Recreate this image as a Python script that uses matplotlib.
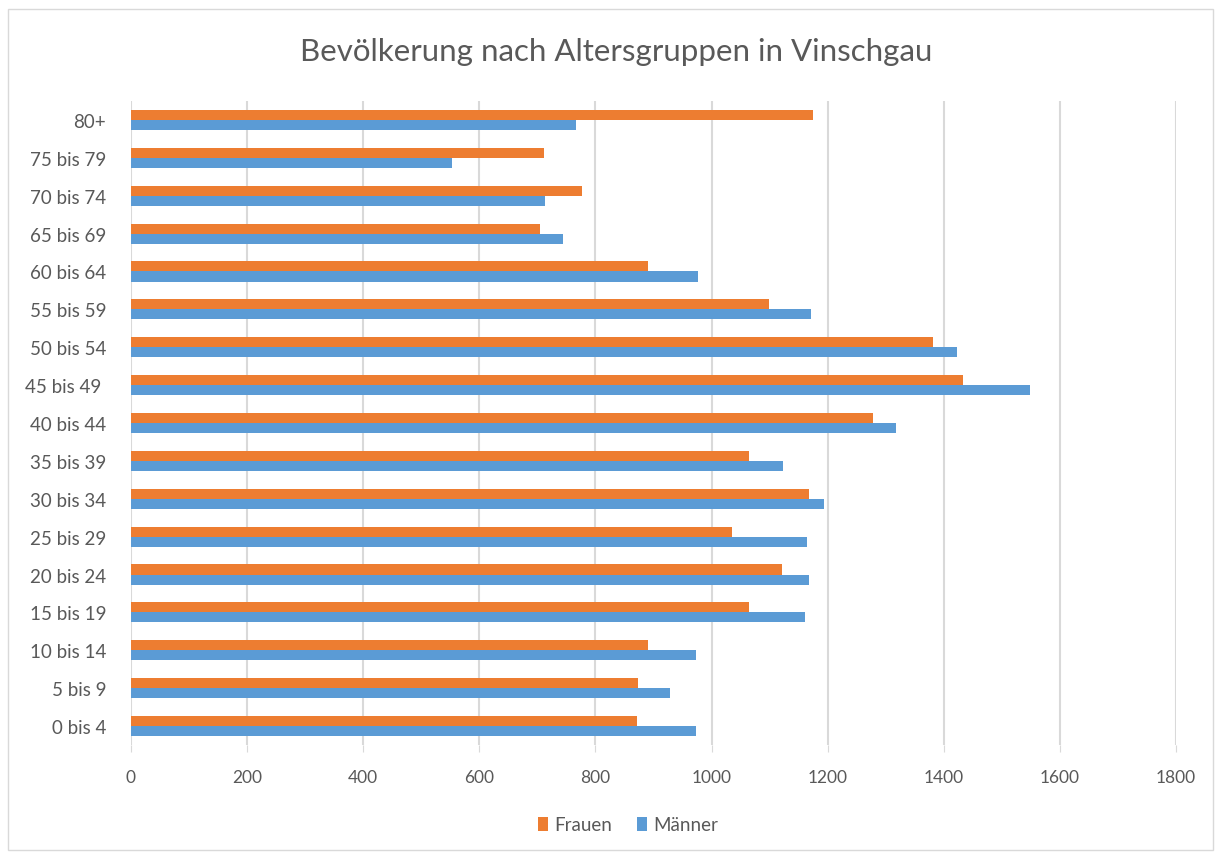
import numpy as np
import matplotlib.pyplot as plt
from matplotlib.patches import Rectangle

# Altersgruppen von unten nach oben
altersgruppen = ['0 bis 4', '5 bis 9', '10 bis 14', '15 bis 19', '20 bis 24', '25 bis 29',
                 '30 bis 34', '35 bis 39', '40 bis 44', '45 bis 49 ', '50 bis 54', '55 bis 59',
                 '60 bis 64', '65 bis 69', '70 bis 74', '75 bis 79', '80+']
frauen = [871, 873, 891, 1065, 1121, 1035, 1168, 1064, 1278, 1433, 1382, 1099,
          891, 704, 777, 711, 1175]
maenner = [973, 928, 973, 1161, 1168, 1164, 1194, 1123, 1317, 1549, 1423, 1171,
           977, 744, 713, 553, 766]
x_ticks = [0, 200, 400, 600, 800, 1000, 1200, 1400, 1600, 1800]

plt.rcParams['font.family'] = ['Lato', 'DejaVu Sans']
grau = '#595959'

fig = plt.figure(figsize=(12.21, 8.53), dpi=100)
ax = fig.add_axes([131 / 1221, 1 - 746 / 853, (1176 - 131) / 1221, (746 - 102) / 853])

y = np.arange(len(altersgruppen))
h = 0.265
ax.barh(y + h / 2, frauen, height=h, color='#ED7D31', label='Frauen', zorder=3)
ax.barh(y - h / 2, maenner, height=h, color='#5B9BD5', label='Männer', zorder=3)

ax.set_xlim(0, 1800)
ax.set_ylim(-0.5, len(altersgruppen) - 0.5)
ax.set_xticks(x_ticks)
ax.set_yticks(y)
ax.set_yticklabels(altersgruppen)
ax.xaxis.grid(True, color='#d9d9d9', linewidth=1.5, zorder=0)
ax.set_axisbelow(True)
for s in ax.spines.values():
    s.set_visible(False)
ax.tick_params(axis='x', length=5, color='#d9d9d9', labelcolor=grau, labelsize=12.5, pad=12)
ax.tick_params(axis='y', length=0, labelcolor=grau, labelsize=13.5, pad=18)

fig.text(616 / 1221, 1 - 52 / 853, 'Bevölkerung nach Altersgruppen in Vinschgau',
         ha='center', va='center', fontsize=22.5, color=grau)

leg = fig.legend(loc='center', bbox_to_anchor=(628 / 1221, 1 - 826 / 853), ncol=2,
                 frameon=False, fontsize=13.5, handlelength=0.55, handleheight=0.7,
                 columnspacing=1.3, handletextpad=0.35)
for t in leg.get_texts():
    t.set_color(grau)

# Rahmen wie im Excel-Diagramm
fig.patches.append(Rectangle((8 / 1221, 0.002), 1205 / 1221, 1 - 10 / 853 - 0.002,
                             transform=fig.transFigure, fill=False,
                             edgecolor='#d9d9d9', linewidth=1))

fig.savefig('out.png', dpi=100)
